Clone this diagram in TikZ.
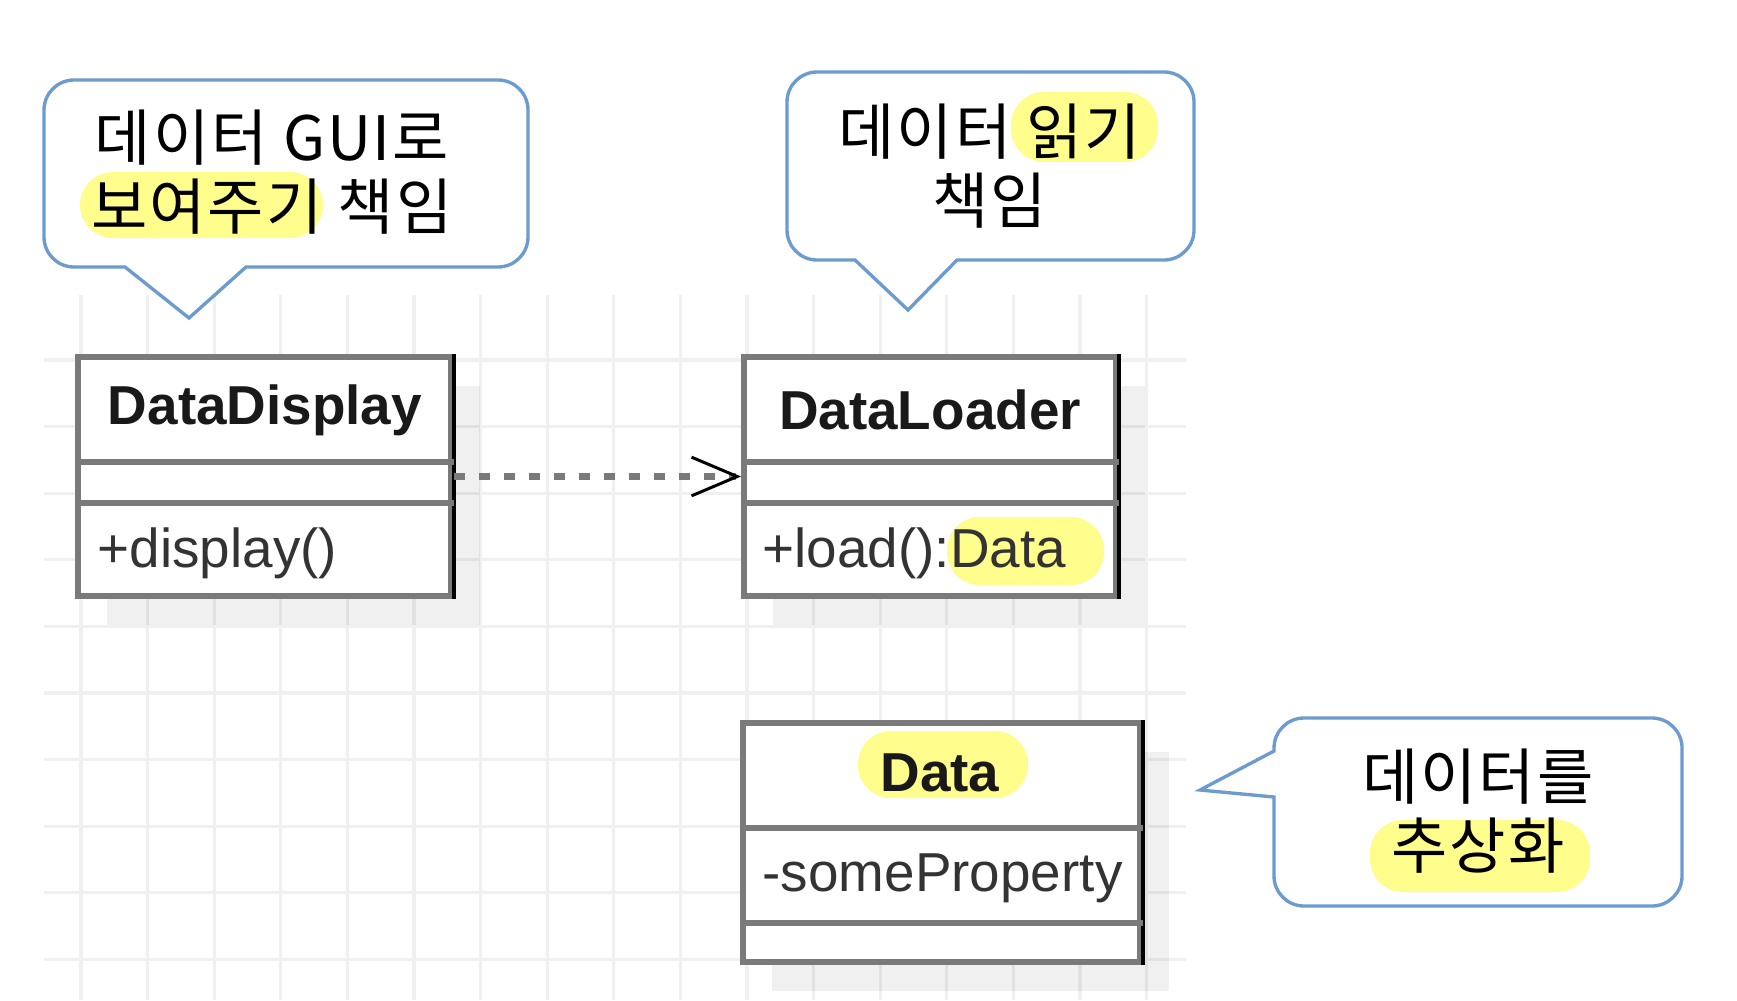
\documentclass[tikz,border=0pt]{standalone}
\usepackage{fontspec}
\setmainfont{Liberation Sans}
\newfontfamily\kofont[LetterSpace=3]{Noto Sans CJK KR}
\usetikzlibrary{arrows.meta,shadows}

\definecolor{bubbleblue}{RGB}{108,155,207}
\definecolor{hilite}{RGB}{255,253,140}
\definecolor{gridgray}{RGB}{240,240,240}
\definecolor{linegray}{RGB}{122,122,122}

\tikzset{
  gridline/.style={gridgray, line width=0.9pt},
  bubble/.style={draw=bubbleblue, line width=0.95pt, fill=white},
  bubbletext/.style={align=center, inner sep=0pt, font=\kofont\fontsize{17.4}{19.6}\selectfont},
  marker/.style={fill=hilite, rounded corners=0.33cm},
  classbox/.style={draw=linegray, line width=1.6pt, fill=white, inner sep=0pt,
    drop shadow={shadow xshift=0.29cm, shadow yshift=-0.29cm, fill=black, opacity=0.06}},
  classline/.style={linegray, line width=1.6pt},
  classname/.style={inner sep=0pt, text=black!90, font=\bfseries\fontsize{15.6}{18}\selectfont},
  member/.style={inner sep=0pt, anchor=west, text=black!80, font=\fontsize{15.6}{18}\selectfont},
  depend/.style={linegray, line width=2pt, dash pattern=on 0.11cm off 0.14cm,
    -{Straight Barb[length=13pt, width=11pt, black, line width=0.85pt]}}
}

\begin{document}
\begin{tikzpicture}[x=0.01cm, y=-0.01cm]

	\def \gstep{66.6};

	\fill[white] (0,0) rectangle (1737,1000);
	\useasboundingbox (0,0) rectangle (1737,1000);

	% grid
	\foreach \i in {0,...,16} \draw[gridline] ({81+\gstep*\i}, 295) -- ({81+\gstep*\i}, 1000);
	\foreach \j in {0,...,9} \draw[gridline] (44, {360+\gstep*\j}) -- (1186, {360+\gstep*\j});

	% classes
	\node[classbox, minimum width=3.73cm, minimum height=2.39cm] (display) at (264.5,476.5) {};
	\node[classbox, minimum width=3.72cm, minimum height=2.39cm] (loader) at (930,476.5) {};
	\node[classbox, minimum width=3.97cm, minimum height=2.39cm] (data) at (941.5,842.5) {};

	\foreach \n in {display,loader,data}
		\draw[black, line width=0.9pt] (\n.north east) -- (\n.south east);

	\draw[classline] (display.west |- 0,462) -- (display.east |- 0,462);
	\draw[classline] (display.west |- 0,503) -- (display.east |- 0,503);
	\draw[classline] (loader.west |- 0,462) -- (loader.east |- 0,462);
	\draw[classline] (loader.west |- 0,503) -- (loader.east |- 0,503);
	\draw[classline] (data.west |- 0,828) -- (data.east |- 0,828);
	\draw[classline] (data.west |- 0,923) -- (data.east |- 0,923);

	% highlights in classes
	\fill[marker] (947,517) rectangle (1104,585);
	\fill[marker] (858,731) rectangle (1028,798);

	\node[classname] (displayname) at (265,410) {DataDisplay};
	\node[member] (displayop) at (97,553) {+display()};
	\node[classname] (loadername) at (930,410) {DataLoader};
	\node[member] (loaderop) at (762,553) {+load():Data};
	\node[classname] (dataname) at (940,773) {Data};
	\node[member] (dataprop) at (762,878) {-someProperty};

	\draw[depend] (display) -- (loader);

	% callouts
	\draw[bubble] (189,318) -- (125,267) [rounded corners=0.3cm] -- (44,267) -- (44,80) -- (528,80) -- (528,267) [sharp corners] -- (246,267) -- cycle;
	\draw[bubble] (908,310) -- (855,260) [rounded corners=0.3cm] -- (787,260) -- (787,72) -- (1194,72) -- (1194,260) [sharp corners] -- (957,260) -- cycle;
	\draw[bubble] (1200,790) -- (1274,797) [rounded corners=0.3cm] -- (1274,906) -- (1682,906) -- (1682,718) -- (1274,718) [sharp corners] -- (1274,751) -- cycle;

	\fill[marker] (80,172) rectangle (323,238);
	\fill[marker] (1011,92) rectangle (1158,162);
	\fill[marker] (1370,820) rectangle (1590,892);

	\node[bubbletext] (note1) at (272,172) {데이터 GUI로\\보여주기 책임};
	\node[bubbletext] (note2) at (990,166) {데이터 읽기\\책임};
	\node[bubbletext] (note3) at (1478,811) {데이터를\\추상화};

\end{tikzpicture}
\end{document}
